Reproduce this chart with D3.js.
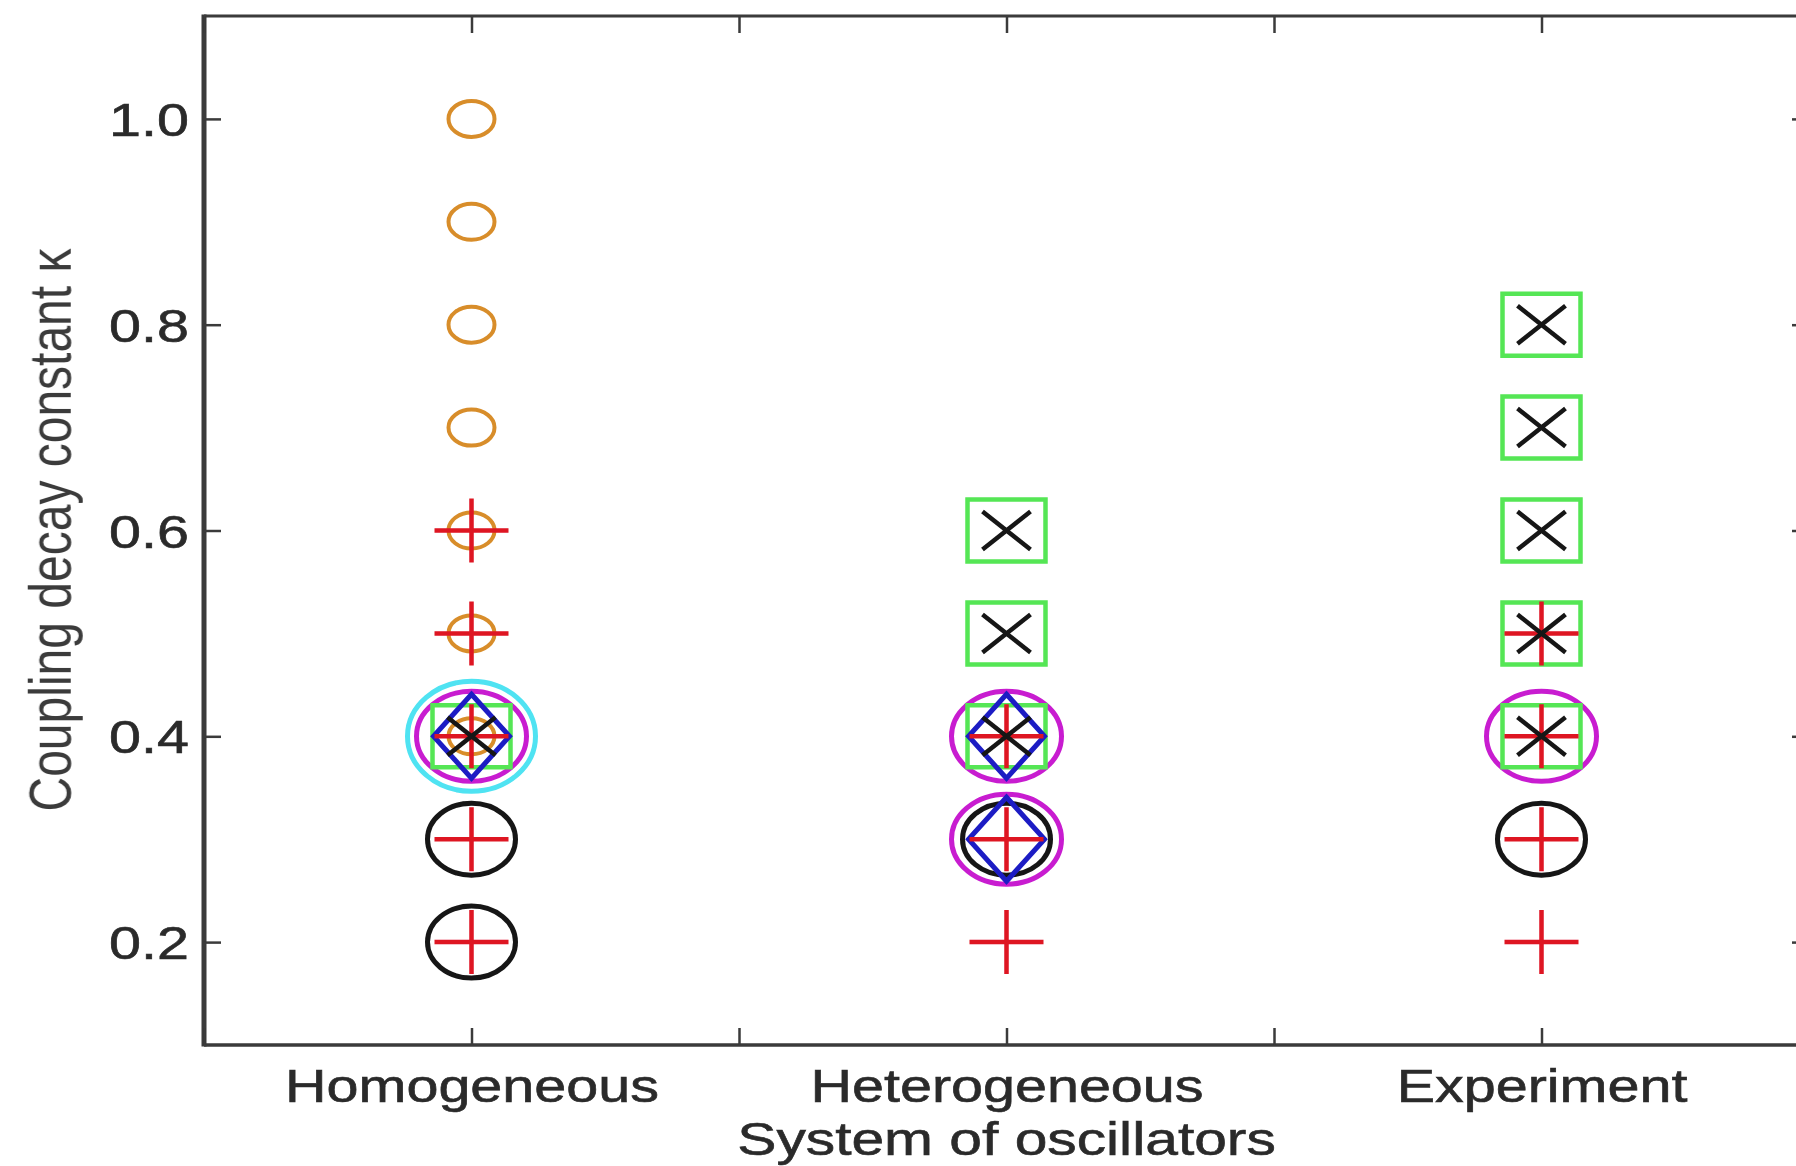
<!DOCTYPE html>
<html>
<head>
<meta charset="utf-8">
<script src="https://cdn.jsdelivr.net/npm/d3@7"></script>
<style>
  html, body { margin: 0; padding: 0; background: #fff; }
  svg { display: block; }
  text { font-family: "Liberation Sans", Arial, sans-serif; }
</style>
</head>
<body>
<svg id="chart"></svg>
<script>
// categories on the x axis (placed at 1, 2, 3)
const categories = ["Homogeneous", "Heterogeneous", "Experiment"];
const yTicks = [0.2, 0.4, 0.6, 0.8, 1.0];
const xTicks = [0.5, 1, 1.5, 2, 2.5, 3, 3.5];

// kappa values per category for each marker series (Homogeneous, Heterogeneous, Experiment)
const cyanCircle    = [[0.4], [], []];
const magentaCircle = [[0.4], [0.3, 0.4], [0.4]];
const blackCircle   = [[0.2, 0.3], [0.3], [0.3]];
const greenSquare   = [[0.4], [0.4, 0.5, 0.6], [0.4, 0.5, 0.6, 0.7, 0.8]];
const blueDiamond   = [[0.4], [0.3, 0.4], []];
const orangeCircle  = [[0.4, 0.5, 0.6, 0.7, 0.8, 0.9, 1.0], [], []];
const redPlus       = [[0.2, 0.3, 0.4, 0.5, 0.6], [0.2, 0.3, 0.4], [0.2, 0.3, 0.4, 0.5]];
const blackCross    = [[0.4], [0.4, 0.5, 0.6], [0.4, 0.5, 0.6, 0.7, 0.8]];

const width = 1796, height = 1166;
// figure is stretched horizontally, so text gets the same squeeze
const SX = 1.25;

const svg = d3.select('#chart').attr('width', width).attr('height', height);

// slight softening, the source picture is a blurry scan
svg.append('defs').append('filter').attr('id', 'soft')
  .append('feGaussianBlur').attr('stdDeviation', 0.7);

const x = d3.scaleLinear().domain([0.5, 3.5]).range([204, 1809]);
const y = d3.scaleLinear().domain([0.1, 1.1]).range([1045, 16]);

// marker paths centred on 0,0 (half width / half height in pixels)
const shapes = {
  circle: (w, h) => `M${-w},0A${w},${h} 0 1,0 ${w},0A${w},${h} 0 1,0 ${-w},0Z`,
  square: (w, h) => `M${-w},${-h}H${w}V${h}H${-w}Z`,
  diamond: (w, h) => `M0,${-h}L${w},0L0,${h}L${-w},0Z`,
  plus: (w, h) => `M${-w},0H${w}M0,${-h}V${h}`,
  cross: (w, h) => `M${-w},${-h}L${w},${h}M${-w},${h}L${w},${-h}`
};

// drawing order matters: big rings underneath, crosses on top
const series = [
  { data: cyanCircle,    shape: 'circle',  w: 64, h: 55, color: '#4fe3f2', sw: 5 },
  { data: magentaCircle, shape: 'circle',  w: 55, h: 45, color: '#c81fd0', sw: 5 },
  { data: blackCircle,   shape: 'circle',  w: 44, h: 36, color: '#151515', sw: 5 },
  { data: greenSquare,   shape: 'square',  w: 39, h: 31, color: '#55e655', sw: 4.5 },
  { data: blueDiamond,   shape: 'diamond', w: 38, h: 42, color: '#1c1cc4', sw: 5 },
  { data: orangeCircle,  shape: 'circle',  w: 23, h: 18, color: '#d88d2a', sw: 4 },
  { data: redPlus,       shape: 'plus',    w: 37, h: 32, color: '#de1420', sw: 4.5 },
  { data: blackCross,    shape: 'cross',   w: 24, h: 19, color: '#151515', sw: 4.5 }
];

const plot = svg.append('g').attr('filter', 'url(#soft)');

// frame
const frame = plot.append('g').attr('stroke', '#3a3a3a').attr('fill', 'none');
frame.append('line').attr('x1', x(0.5)).attr('x2', x(3.5)).attr('y1', y(1.1)).attr('y2', y(1.1)).attr('stroke-width', 3);
frame.append('line').attr('x1', x(0.5)).attr('x2', x(3.5)).attr('y1', y(0.1)).attr('y2', y(0.1)).attr('stroke-width', 3.5);
frame.append('line').attr('x1', x(0.5)).attr('x2', x(0.5)).attr('y1', y(1.1) - 1.5).attr('y2', y(0.1) + 1.5).attr('stroke-width', 5);
frame.append('line').attr('x1', x(3.5)).attr('x2', x(3.5)).attr('y1', y(1.1)).attr('y2', y(0.1)).attr('stroke-width', 3);

const tickFmtX = d => Number.isInteger(d) ? categories[d - 1] : '';

// axes with inward ticks like MATLAB
const axLeft = plot.append('g').attr('transform', `translate(${x(0.5)},0)`)
  .call(d3.axisLeft(y).tickValues(yTicks).tickFormat(d3.format('.1f')).tickSizeInner(-17).tickSizeOuter(0).tickPadding(12));
const axRight = plot.append('g').attr('transform', `translate(${x(3.5)},0)`)
  .call(d3.axisRight(y).tickValues(yTicks).tickFormat('').tickSizeInner(-17).tickSizeOuter(0));
const axBottom = plot.append('g').attr('transform', `translate(0,${y(0.1)})`)
  .call(d3.axisBottom(x).tickValues(xTicks).tickFormat(tickFmtX).tickSizeInner(-17).tickSizeOuter(0));
const axTop = plot.append('g').attr('transform', `translate(0,${y(1.1)})`)
  .call(d3.axisTop(x).tickValues(xTicks).tickFormat('').tickSizeInner(-17).tickSizeOuter(0));

[axLeft, axRight, axBottom, axTop].forEach(g => {
  g.select('.domain').remove();
  g.selectAll('.tick line').attr('stroke', '#3a3a3a').attr('stroke-width', 2.5);
});

axLeft.selectAll('.tick text')
  .attr('font-size', 46)
  .attr('fill', '#2b2b2b')
  .attr('stroke', '#2b2b2b')
  .attr('stroke-width', 0.6)
  .attr('dy', '0.36em')
  .attr('transform', `scale(${SX},1)`);

axBottom.selectAll('.tick text')
  .attr('font-size', 46)
  .attr('fill', '#2b2b2b')
  .attr('stroke', '#2b2b2b')
  .attr('stroke-width', 0.6)
  .attr('dy', null)
  .attr('y', 1102 - y(0.1))
  .attr('transform', `scale(${SX},1)`);

// markers
series.forEach(s => {
  const pts = [];
  s.data.forEach((vals, i) => vals.forEach(v => pts.push({ cat: i + 1, value: v })));
  plot.append('g')
    .selectAll('path')
    .data(pts)
    .join('path')
    .attr('transform', d => `translate(${x(d.cat)},${y(d.value)})`)
    .attr('d', shapes[s.shape](s.w, s.h))
    .attr('fill', 'none')
    .attr('stroke', s.color)
    .attr('stroke-width', s.sw);
});

// axis titles
plot.append('text')
  .attr('transform', `translate(${x(2)},1155) scale(${SX},1)`)
  .attr('text-anchor', 'middle')
  .attr('font-size', 47)
  .attr('fill', '#2b2b2b')
  .attr('stroke', '#2b2b2b')
  .attr('stroke-width', 0.6)
  .text('System of oscillators');

plot.append('text')
  .attr('transform', `translate(71,530) scale(${SX},1) rotate(-90)`)
  .attr('text-anchor', 'middle')
  .attr('font-size', 48)
  .attr('fill', '#3a3a3a')
  .text('Coupling decay constant κ');
</script>
</body>
</html>
